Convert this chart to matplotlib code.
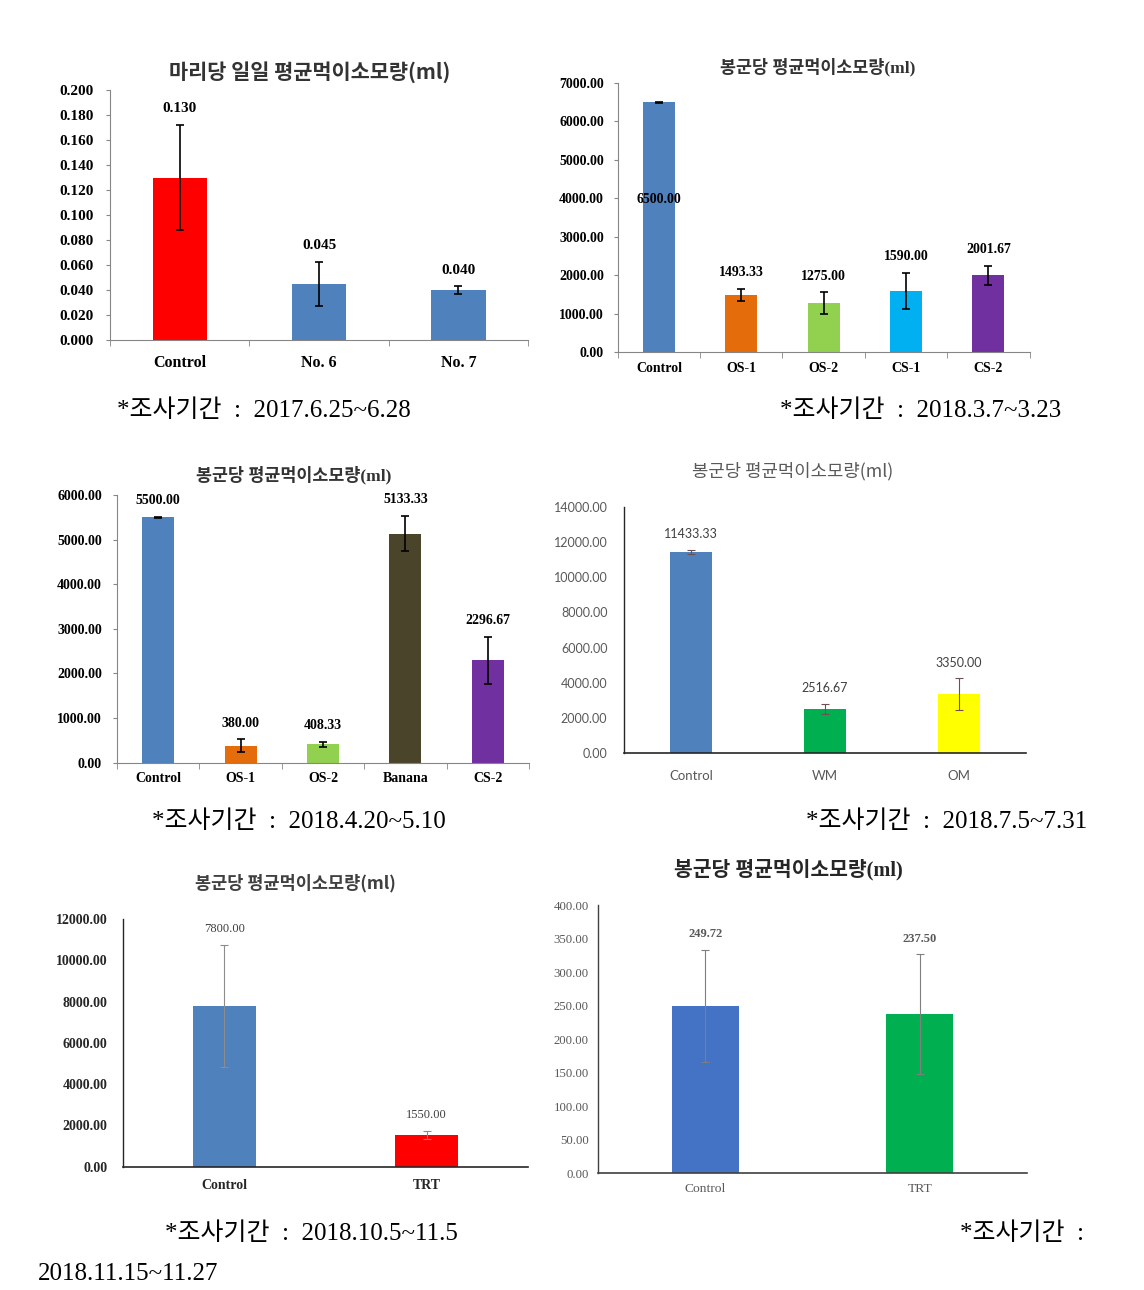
import matplotlib
matplotlib.use("Agg")
import matplotlib.pyplot as plt
import numpy as np

plt.rcParams['font.family'] = ['Liberation Serif', 'Noto Sans CJK KR']

# ---- data ----
title1 = "마리당 일일 평균먹이소모량(ml)"
cats1 = ["Control", "No. 6", "No. 7"]
vals1 = [0.130, 0.045, 0.040]
errs1 = [0.042, 0.0175, 0.003]
cols1 = ["#FF0000", "#4F81BD", "#4F81BD"]
ticks1 = [0.000, 0.020, 0.040, 0.060, 0.080, 0.100, 0.120, 0.140, 0.160, 0.180, 0.200]

title2 = "봉군당 평균먹이소모량(ml)"
cats2 = ["Control", "OS-1", "OS-2", "CS-1", "CS-2"]
vals2 = [6500.00, 1493.33, 1275.00, 1590.00, 2001.67]
errs2 = [10, 160, 280, 470, 250]
cols2 = ["#4F81BD", "#E46C0A", "#92D050", "#00B0F0", "#7030A0"]
ticks2 = [0, 1000, 2000, 3000, 4000, 5000, 6000, 7000]

cats3 = ["Control", "OS-1", "OS-2", "Banana", "CS-2"]
vals3 = [5500.00, 380.00, 408.33, 5133.33, 2296.67]
errs3 = [15, 140, 60, 400, 530]
cols3 = ["#4F81BD", "#E46C0A", "#92D050", "#4A452A", "#7030A0"]
ticks3 = [0, 1000, 2000, 3000, 4000, 5000, 6000]

cats4 = ["Control", "WM", "OM"]
vals4 = [11433.33, 2516.67, 3350.00]
errs4 = [100, 290, 900]
cols4 = ["#4F81BD", "#00B050", "#FFFF00"]
ticks4 = [0, 2000, 4000, 6000, 8000, 10000, 12000, 14000]

cats5 = ["Control", "TRT"]
vals5 = [7800.00, 1550.00]
errs5 = [2950, 200]
cols5 = ["#4F81BD", "#FF0000"]
ticks5 = [0, 2000, 4000, 6000, 8000, 10000, 12000]

cats6 = ["Control", "TRT"]
vals6 = [249.72, 237.50]
errs6 = [84, 89]
cols6 = ["#4472C4", "#00B050"]
ticks6 = [0, 50, 100, 150, 200, 250, 300, 350, 400]

captions = [
    "*조사기간  :  2017.6.25~6.28",
    "*조사기간  :  2018.3.7~3.23",
    "*조사기간  :  2018.4.20~5.10",
    "*조사기간  :  2018.7.5~7.31",
    "*조사기간  :  2018.10.5~11.5",
    "*조사기간  :",
    "2018.11.15~11.27",
]

fig = plt.figure(figsize=(11.44, 12.90), dpi=100)


def panel(rect, cats, vals, errs, cols, ticks, fmt, tickfmt, width,
          excel=True, family=None, tick_size=8, tick_weight='bold', tick_color='black',
          lab_size=8, lab_weight='bold', lab_color='black', x_size=9, x_weight='bold',
          x_color='black', err_color='black', err_lw=1.2, spine_color='#868686',
          inside=None, ypad=4, xpad=6):
    ax = fig.add_axes(rect)
    fam = family or ['Liberation Serif', 'Noto Sans CJK KR']
    x = np.arange(len(cats))
    ax.bar(x, vals, width=width, color=cols, zorder=2)
    ax.errorbar(x, vals, yerr=errs, fmt='none', ecolor=err_color, elinewidth=err_lw,
                capsize=3, capthick=err_lw, zorder=3)
    for i, (v, e) in enumerate(zip(vals, errs)):
        if inside is not None and i == inside:
            ax.text(i, v * 0.61, fmt.format(v), ha='center', va='center', family=fam,
                    size=lab_size, weight=lab_weight, color=lab_color, zorder=4)
        else:
            ax.annotate(fmt.format(v), xy=(i, v + e), xytext=(0, 7), textcoords='offset points',
                        ha='center', va='bottom', family=fam, size=lab_size,
                        weight=lab_weight, color=lab_color)
    ax.set_xlim(-0.5, len(cats) - 0.5)
    ax.set_ylim(ticks[0], ticks[-1])
    ax.set_yticks(ticks)
    ax.set_yticklabels([tickfmt.format(t) for t in ticks], family=fam, size=tick_size,
                       weight=tick_weight, color=tick_color)
    ax.set_xticks(x)
    ax.set_xticklabels(cats, family=fam, size=x_size, weight=x_weight, color=x_color)
    for s in ['top', 'right']:
        ax.spines[s].set_visible(False)
    for s in ['left', 'bottom']:
        ax.spines[s].set_color(spine_color)
    if excel:
        ax.tick_params(axis='y', length=3, color=spine_color, pad=ypad)
        ax.tick_params(axis='x', which='major', length=0, pad=xpad)
        ax.set_xticks(np.arange(len(cats) + 1) - 0.5, minor=True)
        ax.tick_params(axis='x', which='minor', length=4, color=spine_color)
    else:
        ax.tick_params(axis='y', length=0, pad=ypad)
        ax.tick_params(axis='x', length=0, pad=xpad)
        ax.spines['left'].set_color(spine_color)
        ax.spines['left'].set_linewidth(1.0)
        ax.spines['bottom'].set_linewidth(1.2)
    return ax


kr = ['Noto Sans CJK KR']
kr_serif = ['Liberation Serif', 'Noto Sans CJK KR']

panel([0.0962, 0.7364, 0.3654, 0.1938], cats1, vals1, errs1, cols1, ticks1,
      "{:.3f}", "{:.3f}", 0.39, tick_size=11, lab_size=11, x_size=11.5, ypad=9, xpad=11)
fig.text(0.271, 1 - 72 / 1290, title1, ha='center', va='center', family=kr, size=15,
         weight='bold', color='#333333')

panel([0.540, 0.7271, 0.360, 0.2085], cats2, vals2, errs2, cols2, ticks2,
      "{:.2f}", "{:.2f}", 0.39, tick_size=10, lab_size=10, x_size=10, inside=0,
      ypad=7, xpad=7)
fig.text(0.715, 1 - 67 / 1290, title2, ha='center', va='center', family=kr_serif, size=12.5,
         weight='bold', color='#333333')

panel([0.1023, 0.4088, 0.360, 0.2075], cats3, vals3, errs3, cols3, ticks3,
      "{:.2f}", "{:.2f}", 0.39, tick_size=10, lab_size=10, x_size=10, ypad=8, xpad=7)
fig.text(0.257, 1 - 475 / 1290, title2, ha='center', va='center', family=kr_serif, size=12.5,
         weight='bold', color='#333333')

lato = ['Lato', 'Noto Sans CJK KR']
panel([0.5455, 0.4160, 0.3514, 0.1912], cats4, vals4, errs4, cols4, ticks4,
      "{:.2f}", "{:.2f}", 0.31, excel=False, family=lato, tick_size=9, tick_weight='normal',
      tick_color='#595959', lab_size=9, lab_weight='normal', lab_color='#404040',
      x_size=9.5, x_weight='normal', x_color='#595959', err_color='#6e5050', err_lw=0.8,
      spine_color='#262626', ypad=12, xpad=12)
fig.text(0.693, 1 - 471 / 1290, title2, ha='center', va='center', family=kr, size=12.8,
         weight='normal', color='#595959')

panel([0.1075, 0.0956, 0.354, 0.1918], cats5, vals5, errs5, cols5, ticks5,
      "{:.2f}", "{:.2f}", 0.31, excel=False, tick_size=10, tick_weight='bold',
      tick_color='#262626', lab_size=9, lab_weight='normal', lab_color='#404040',
      x_size=10, x_weight='bold', x_color='#262626', err_color='#8c8c8c', err_lw=0.8,
      spine_color='#262626', ypad=11, xpad=9)
fig.text(0.258, 1 - 883 / 1290, title2, ha='center', va='center', family=kr, size=12.6,
         weight='bold', color='#404040')

panel([0.523, 0.0904, 0.3745, 0.208], cats6, vals6, errs6, cols6, ticks6,
      "{:.2f}", "{:.2f}", 0.31, excel=False, tick_size=9.2, tick_weight='normal',
      tick_color='#595959', lab_size=9, lab_weight='bold', lab_color='#595959',
      x_size=9.7, x_weight='normal', x_color='#595959', err_color='#7f7f7f', err_lw=0.8,
      spine_color='#404040', ypad=7, xpad=7)
fig.text(0.689, 1 - 870 / 1290, title2, ha='center', va='center', family=kr_serif, size=14.7,
         weight='bold', color='#262626')

# captions under the charts
cap_pos = [(117, 411), (780, 411), (152, 822), (806, 822), (165, 1234), (960, 1234), (38, 1274)]
cap_fam = ['Liberation Serif', 'Noto Sans CJK KR']
for txt, (px, py) in zip(captions, cap_pos):
    fig.text(px / 1144, 1 - py / 1290, txt, ha='left', va='center', family=cap_fam,
             size=18, color='black')

fig.savefig("out.png", dpi=100, facecolor='white')
